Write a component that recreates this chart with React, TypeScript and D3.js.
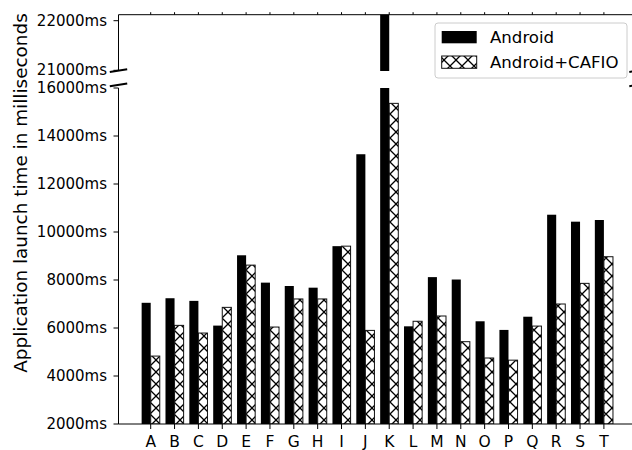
import React from 'react';
import * as d3 from 'd3';

// launch times per app, in ms
const categories = ['A', 'B', 'C', 'D', 'E', 'F', 'G', 'H', 'I', 'J', 'K', 'L', 'M', 'N', 'O', 'P', 'Q', 'R', 'S', 'T'];
const android = [7050, 7240, 7130, 6100, 9030, 7890, 7750, 7680, 9410, 13240, 22500, 6070, 8120, 8020, 6280, 5920, 6470, 10720, 10430, 10500];
const cafio = [4830, 6110, 5790, 6860, 8620, 6040, 7210, 7210, 9410, 5900, 15360, 6280, 6500, 5430, 4750, 4660, 6080, 7000, 7860, 8970];
const bottomTicks = [2000, 4000, 6000, 8000, 10000, 12000, 14000, 16000];
const topTicks = [21000, 22000];
const seriesNames = ['Android', 'Android+CAFIO'];

const W = 632;
const H = 450;
const FONT = "'DejaVu Sans', sans-serif";

const left = 118.5;
const right = 638;
const topAx = { y0: 14.7, y1: 71 };
const botAx = { y0: 88, y1: 424 };

const App = () => {
  const x = d3.scalePoint<string>().domain(categories).range([150.7, 603.9]);
  const step = x.step();
  const barW = step * 0.38;

  const yBot = d3.scaleLinear().domain([2000, 16000]).range([botAx.y1, botAx.y0]);
  const yTop = d3.scaleLinear().domain([21000, 22000]).range([70.3, 20.7]);

  const fmt = (v: number) => `${v}ms`;

  const bars = (y: d3.ScaleLinear<number, number>, base: number) =>
    categories.map((c, i) => {
      const cx = x(c) as number;
      return (
        <g key={c}>
          <rect x={cx - barW} y={y(android[i])} width={barW} height={Math.max(0, base - y(android[i]))} fill="#000" />
          <rect
            x={cx}
            y={y(cafio[i])}
            width={barW}
            height={Math.max(0, base - y(cafio[i]))}
            fill="url(#hatch)"
            stroke="#111"
            strokeWidth={1}
          />
        </g>
      );
    });

  const hs = 12;

  return (
    <svg width={W} height={H} style={{ position: 'absolute', left: 0, top: 0, background: '#fff' }} fontFamily={FONT}>
      <defs>
        <pattern id="hatch" patternUnits="userSpaceOnUse" width={hs} height={hs}>
          <rect width={hs} height={hs} fill="#fff" />
          <path
            d={`M0,0L${hs},${hs}M${hs},0L0,${hs}M${-hs / 2},${hs / 2}L${hs / 2},${hs * 1.5}M${hs / 2},${-hs / 2}L${hs * 1.5},${hs / 2}M${hs / 2},${hs * 1.5}L${hs * 1.5},${hs / 2}M${-hs / 2},${hs / 2}L${hs / 2},${-hs / 2}`}
            stroke="#000"
            strokeWidth={1.3}
          />
        </pattern>
        <clipPath id="clipTop">
          <rect x={left} y={topAx.y0} width={right - left} height={topAx.y1 - topAx.y0} />
        </clipPath>
        <clipPath id="clipBot">
          <rect x={left} y={botAx.y0} width={right - left} height={botAx.y1 - botAx.y0} />
        </clipPath>
      </defs>

      {/* bars */}
      <g clipPath="url(#clipTop)">{bars(yTop, topAx.y1 + 10)}</g>
      <g clipPath="url(#clipBot)">{bars(yBot, botAx.y1)}</g>

      {/* spines */}
      <g stroke="#000" strokeWidth={1}>
        <line x1={left} x2={right} y1={topAx.y0} y2={topAx.y0} />
        <line x1={left} x2={left} y1={topAx.y0} y2={topAx.y1} />
        <line x1={left} x2={left} y1={botAx.y0} y2={botAx.y1} />
        <line x1={left} x2={right} y1={botAx.y1} y2={botAx.y1} />
      </g>

      {/* break marks */}
      <g stroke="#000" strokeWidth={2}>
        {[left, right].map((bx) => (
          <g key={bx}>
            <line x1={bx - 8.7} y1={72} x2={bx + 8.7} y2={69.3} />
            <line x1={bx - 8.7} y1={86.3} x2={bx + 8.7} y2={83.4} />
          </g>
        ))}
      </g>

      {/* top axis ticks */}
      {categories.map((c) => (
        <line key={c} x1={x(c)} x2={x(c)} y1={topAx.y0} y2={topAx.y0 - 2.5} stroke="#000" strokeWidth={1} />
      ))}
      {topTicks.map((t) => (
        <g key={t}>
          <line x1={left - 5} x2={left} y1={yTop(t)} y2={yTop(t)} stroke="#000" strokeWidth={1} />
          <text x={107} y={yTop(t)} textAnchor="end" dominantBaseline="central" fontSize={15}>
            {fmt(t)}
          </text>
        </g>
      ))}

      {/* bottom axis ticks */}
      {bottomTicks.map((t) => (
        <g key={t}>
          <line x1={left - 5} x2={left} y1={yBot(t)} y2={yBot(t)} stroke="#000" strokeWidth={1} />
          <text x={107} y={yBot(t)} textAnchor="end" dominantBaseline="central" fontSize={15}>
            {fmt(t)}
          </text>
        </g>
      ))}
      {categories.map((c) => (
        <g key={c}>
          <line x1={x(c)} x2={x(c)} y1={botAx.y1} y2={botAx.y1 + 5} stroke="#000" strokeWidth={1} />
          <text x={x(c)} y={447} textAnchor="middle" fontSize={15.5}>
            {c}
          </text>
        </g>
      ))}

      {/* y label */}
      <text transform="translate(26.7,193) rotate(-90)" textAnchor="middle" fontSize={18.4}>
        Application launch time in milliseconds
      </text>

      {/* legend */}
      <g>
        <rect x={435} y={23} width={192} height={55} rx={3} fill="#fff" fillOpacity={0.8} stroke="#ccc" strokeWidth={1} />
        <rect x={441.7} y={31} width={35} height={12.3} fill="#000" />
        <rect x={441.7} y={56} width={35} height={12.3} fill="url(#hatch)" stroke="#111" strokeWidth={1} />
        <text x={490} y={43.3} fontSize={16.6}>{seriesNames[0]}</text>
        <text x={490} y={68.3} fontSize={16.6}>{seriesNames[1]}</text>
      </g>
    </svg>
  );
};

export default App;
